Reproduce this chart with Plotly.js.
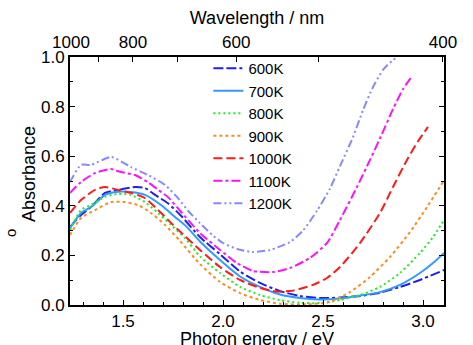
<!DOCTYPE html>
<html>
<head>
<meta charset="utf-8">
<script src="https://cdn.plot.ly/plotly-3.0.1.min.js"></script>
<style>html,body{margin:0;padding:0;background:#fff;}#chart{width:473px;height:345px;}</style>
</head>
<body>
<div id="chart"></div>
<script>
// Data (photon energy in eV, absorbance)
const seriesNames = ["600K","700K","800K","900K","1000K","1100K","1200K"];

const x600 = [1.235,1.29,1.34,1.41,1.475,1.56,1.61,1.66,1.725,1.79,1.885,1.985,2.085,2.185,2.285,2.385,2.485,2.585,2.685,2.785,2.885,2.985,3.105];
const y600 = [0.315,0.363,0.395,0.452,0.464,0.476,0.472,0.444,0.41,0.36,0.274,0.205,0.135,0.089,0.056,0.036,0.028,0.030,0.036,0.050,0.073,0.101,0.141];

const x700 = [1.235,1.29,1.34,1.41,1.46,1.54,1.61,1.69,1.76,1.815,1.885,1.985,2.085,2.185,2.285,2.385,2.485,2.585,2.685,2.785,2.885,2.985,3.05,3.105];
const y700 = [0.31,0.371,0.395,0.444,0.456,0.456,0.444,0.403,0.355,0.318,0.256,0.181,0.115,0.073,0.042,0.028,0.022,0.026,0.038,0.052,0.081,0.129,0.169,0.21];

const x800 = [1.235,1.29,1.34,1.41,1.475,1.54,1.61,1.675,1.74,1.81,1.885,1.985,2.085,2.185,2.285,2.385,2.485,2.585,2.685,2.785,2.885,2.985,3.05,3.105];
const y800 = [0.302,0.383,0.403,0.436,0.448,0.444,0.415,0.371,0.323,0.27,0.196,0.129,0.073,0.040,0.020,0.009,0.008,0.020,0.040,0.073,0.129,0.21,0.274,0.343];

const x900 = [1.235,1.29,1.36,1.44,1.51,1.575,1.64,1.71,1.785,1.885,1.985,2.085,2.185,2.285,2.385,2.535,2.635,2.735,2.835,2.935,3.02,3.1];
const y900 = [0.282,0.351,0.383,0.415,0.415,0.403,0.371,0.323,0.258,0.165,0.093,0.048,0.020,0.005,0.002,0.012,0.052,0.113,0.194,0.294,0.395,0.496];

const x1000 = [1.235,1.29,1.36,1.41,1.475,1.54,1.61,1.675,1.74,1.785,1.885,1.985,2.085,2.185,2.27,2.35,2.45,2.52,2.585,2.685,2.785,2.85,2.92,2.975,3.025];
const y1000 = [0.371,0.423,0.464,0.476,0.464,0.452,0.431,0.383,0.331,0.296,0.222,0.153,0.101,0.069,0.054,0.058,0.081,0.109,0.153,0.25,0.371,0.476,0.585,0.66,0.718];

const x1100 = [1.235,1.29,1.36,1.44,1.49,1.56,1.625,1.675,1.725,1.785,1.885,1.985,2.07,2.15,2.25,2.335,2.435,2.52,2.585,2.67,2.735,2.785,2.85,2.9,2.945];
const y1100 = [0.452,0.496,0.532,0.548,0.536,0.524,0.495,0.465,0.435,0.38,0.29,0.222,0.169,0.137,0.133,0.149,0.19,0.25,0.343,0.476,0.585,0.672,0.79,0.87,0.923];

const x1200 = [1.235,1.29,1.34,1.44,1.54,1.625,1.71,1.775,1.825,1.885,1.95,2.0,2.07,2.145,2.235,2.335,2.40,2.47,2.535,2.585,2.65,2.7,2.75,2.8,2.85,2.875];
const y1200 = [0.496,0.565,0.565,0.597,0.556,0.524,0.484,0.431,0.38,0.33,0.28,0.25,0.226,0.214,0.222,0.254,0.30,0.38,0.47,0.56,0.677,0.786,0.879,0.948,0.988,1.0];

const wavelengths = [1000,900,800,700,600,500,400];
const wavelengthLabels = ["1000","","800","","600","","400"];

const xs = [x600,x700,x800,x900,x1000,x1100,x1200];
const ys = [y600,y700,y800,y900,y1000,y1100,y1200];
const colors = ["#2020e8","#3399ff","#22ee22","#ff8c1a","#ff1a1a","#ff11ff","#8888ff"];
const dashes = ["10px,3px,10px,3px,3px,3px","solid","2px,3px","3px,3px","9px,4px","9px,3px,3px,3px","8px,3px,2px,3px,2px,3px"];

const traces = seriesNames.map((n,i)=>({
  x: xs[i], y: ys[i], name: n, type:'scatter', mode:'lines',
  line:{color:colors[i], width:2, dash:dashes[i], shape:'spline', smoothing:0.6}
}));
// invisible trace to activate top axis
traces.push({x:[1.5], y:[0.5], xaxis:'x2', mode:'markers', marker:{opacity:0}, showlegend:false, hoverinfo:'skip'});

const xr = [1.235, 3.105];
const fam = '"Liberation Sans", Arial, sans-serif';
const font = {family:fam, size:16, color:'#000'};

const layout = {
  width:473, height:345,
  margin:{l:70, r:29, t:57, b:40},
  paper_bgcolor:'#fff', plot_bgcolor:'#fff',
  font: font,
  showlegend:true,
  legend:{x:0.37, y:1.02, xanchor:'left', yanchor:'top', bgcolor:'rgba(0,0,0,0)', font:{family:fam, size:15}, tracegroupgap:0, itemwidth:30},
  xaxis:{range:xr, showgrid:false, zeroline:false, showline:true, linecolor:'#000', linewidth:2,
    ticks:'inside', ticklen:5, tickwidth:1, tickcolor:'#000', dtick:0.5, tick0:0, tickformat:'.1f',
    tickfont:{family:fam, size:17},
    minor:{dtick:0.1, ticks:'inside', ticklen:3, tickcolor:'#000'}},
  xaxis2:{range:xr, overlaying:'x', side:'top', showgrid:false, zeroline:false, showline:true, linecolor:'#000', linewidth:2,
    ticks:'inside', ticklen:5, tickcolor:'#000', tickmode:'array',
    tickfont:{family:fam, size:17},
    tickvals: wavelengths.map(w=>1239.84/w), ticktext: wavelengthLabels,
    title:{text:'Wavelength / nm', font:{family:fam, size:18}, standoff:4}},
  yaxis:{range:[0,1], showgrid:false, zeroline:false, showline:true, linecolor:'#000', linewidth:2, mirror:'ticks',
    ticks:'inside', ticklen:5, tickcolor:'#000', dtick:0.2, tickformat:'.1f',
    tickfont:{family:fam, size:17},
    minor:{dtick:0.1, ticks:'inside', ticklen:3, tickcolor:'#000'}},
  annotations:[
    {text:'Photon energy / eV', xref:'paper', yref:'paper', x:0.5, y:-(327-305)/248, xanchor:'center', yanchor:'top', showarrow:false, font:{family:fam, size:18}},
    {text:'Absorbance', xref:'paper', yref:'paper', x:-41/374, y:(305-174)/248, xanchor:'center', yanchor:'middle', showarrow:false, textangle:-90, font:{family:fam, size:18}},
    {text:'o', xref:'paper', yref:'paper', x:-60/374, y:(305-233)/248, xanchor:'center', yanchor:'middle', showarrow:false, textangle:-90, font:{family:fam, size:15}}
  ]
};

Plotly.newPlot('chart', traces, layout, {displayModeBar:false, staticPlot:true});
</script>
</body>
</html>
